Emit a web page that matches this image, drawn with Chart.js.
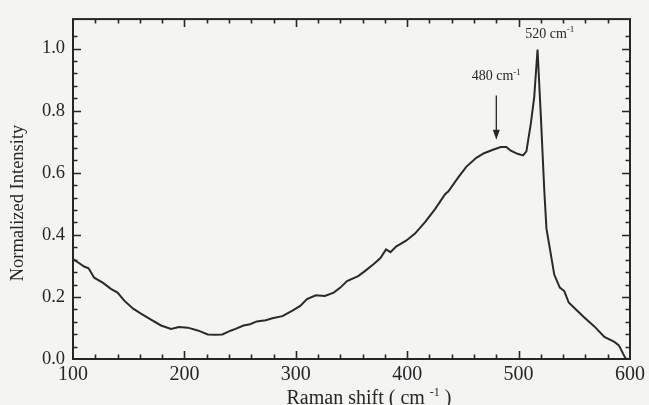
<!DOCTYPE html>
<html>
<head>
<meta charset="utf-8">
<title>Raman spectrum</title>
<script src="https://cdn.jsdelivr.net/npm/chart.js@4/dist/chart.umd.min.js"></script>
<style>
  html, body { margin: 0; padding: 0; background: #f4f4f2; }
  #chart { display: block; }
</style>
</head>
<body>
<canvas id="chart" width="649" height="405"></canvas>
<script>
// values
const ramanShift = [
  100, 105, 110, 114, 119, 127, 134, 140, 146, 154, 161, 170, 179, 188, 195,
  203, 212, 221, 228, 234, 242, 246, 253, 259, 265, 273, 279, 288, 297, 304,
  310, 318, 326, 334, 340, 346, 356, 362, 370, 376, 381, 385, 390, 399, 407,
  416, 425, 434, 437, 446, 453, 462, 469, 477, 484, 489, 493, 499, 504, 507,
  511, 514, 517, 520, 523, 525, 528, 532, 537, 541, 545, 551, 559, 568, 577,
  586, 590, 596, 598
];
const intensity = [
  0.322, 0.31, 0.298, 0.292, 0.262, 0.245, 0.226, 0.214, 0.188, 0.162, 0.146, 0.127, 0.108, 0.097, 0.103,
  0.101, 0.092, 0.079, 0.078, 0.079, 0.092, 0.097, 0.108, 0.112, 0.121, 0.125, 0.131, 0.138, 0.156, 0.171,
  0.193, 0.205, 0.203, 0.214, 0.23, 0.251, 0.267, 0.283, 0.306, 0.325, 0.353, 0.344, 0.362, 0.381, 0.404,
  0.441, 0.483, 0.531, 0.54, 0.586, 0.619, 0.648, 0.663, 0.674, 0.683, 0.683, 0.671, 0.661, 0.656, 0.669,
  0.759, 0.843, 0.997, 0.78, 0.547, 0.42, 0.357, 0.272, 0.23, 0.219, 0.182, 0.161, 0.134, 0.105, 0.071,
  0.055, 0.044, 0.002, 0.0
];

const xMin = 100, xMax = 600, xStep = 20, xMajor = 100;
const yMin = 0, yMax = 1.095, yStep = 0.04, yMajor = 0.2;

const peakLabels = [
  { x: 480, y: 0.898, text: "480 cm", arrowFrom: 0.849, arrowTo: 0.706 },
  { x: 528, y: 1.035, text: "520 cm" }
];
const xTitle = ["Raman shift ( cm ", "-1", " )"];
const yTitle = "Normalized Intensity";

const INK = "#262626";
const SERIF = "'Liberation Serif', 'Times New Roman', serif";

function isMultiple(v, step) {
  const q = v / step;
  return Math.abs(q - Math.round(q)) < 1e-6;
}

// text with a small raised part, centred on x
function drawSupText(ctx, parts, x, y, size) {
  ctx.font = size + "px " + SERIF;
  const w0 = ctx.measureText(parts[0]).width;
  const w2 = parts[2] ? ctx.measureText(parts[2]).width : 0;
  ctx.font = Math.round(size * 0.62) + "px " + SERIF;
  const w1 = ctx.measureText(parts[1]).width;
  let left = x - (w0 + w1 + w2) / 2;
  ctx.textAlign = "left";
  ctx.textBaseline = "alphabetic";
  ctx.font = size + "px " + SERIF;
  ctx.fillText(parts[0], left, y);
  ctx.font = Math.round(size * 0.62) + "px " + SERIF;
  ctx.fillText(parts[1], left + w0, y - size * 0.38);
  if (parts[2]) {
    ctx.font = size + "px " + SERIF;
    ctx.fillText(parts[2], left + w0 + w1, y);
  }
}

const bgPlugin = {
  id: "bg",
  beforeDraw(chart) {
    const ctx = chart.ctx;
    ctx.save();
    ctx.fillStyle = "#f4f4f2";
    ctx.fillRect(0, 0, chart.width, chart.height);
    ctx.restore();
  }
};

// box + inward ticks on all four sides
const framePlugin = {
  id: "frame",
  afterDraw(chart) {
    const { ctx, chartArea: a, scales } = chart;
    ctx.save();
    ctx.strokeStyle = INK;
    ctx.lineWidth = 1.6;
    ctx.beginPath();
    scales.x.ticks.forEach((t) => {
      if (t.value <= xMin || t.value >= xMax) return;
      const px = Math.round(scales.x.getPixelForValue(t.value)) + 0.5;
      const len = isMultiple(t.value, xMajor) ? 8 : 4.5;
      ctx.moveTo(px, a.bottom); ctx.lineTo(px, a.bottom - len);
      ctx.moveTo(px, a.top); ctx.lineTo(px, a.top + len);
    });
    scales.y.ticks.forEach((t) => {
      if (t.value <= yMin || t.value >= yMax - 1e-6) return;
      const py = Math.round(scales.y.getPixelForValue(t.value)) + 0.5;
      const len = isMultiple(t.value, yMajor) ? 8 : 4.5;
      ctx.moveTo(a.left, py); ctx.lineTo(a.left + len, py);
      ctx.moveTo(a.right, py); ctx.lineTo(a.right - len, py);
    });
    ctx.stroke();
    ctx.lineWidth = 2;
    ctx.strokeRect(a.left, a.top, a.right - a.left, a.bottom - a.top);

    // axis titles
    ctx.fillStyle = INK;
    drawSupText(ctx, xTitle, 369, 404, 20);
    ctx.save();
    ctx.translate(18, 203);
    ctx.rotate(-Math.PI / 2);
    ctx.font = "18.5px " + SERIF;
    ctx.textAlign = "center";
    ctx.textBaseline = "middle";
    ctx.fillText(yTitle, 0, 0);
    ctx.restore();
    ctx.restore();
  }
};

// peak labels and arrow
const peakPlugin = {
  id: "peaks",
  afterDatasetsDraw(chart) {
    const { ctx, scales } = chart;
    ctx.save();
    ctx.fillStyle = INK;
    ctx.strokeStyle = INK;
    peakLabels.forEach((p) => {
      const px = scales.x.getPixelForValue(p.x);
      drawSupText(ctx, [p.text, "-1", ""], px, scales.y.getPixelForValue(p.y), 14);
      if (p.arrowFrom !== undefined) {
        const y0 = scales.y.getPixelForValue(p.arrowFrom);
        const y1 = scales.y.getPixelForValue(p.arrowTo);
        ctx.lineWidth = 1.3;
        ctx.beginPath();
        ctx.moveTo(px, y0);
        ctx.lineTo(px, y1 - 8);
        ctx.stroke();
        ctx.beginPath();
        ctx.moveTo(px, y1);
        ctx.lineTo(px - 3.5, y1 - 10);
        ctx.lineTo(px + 3.5, y1 - 10);
        ctx.closePath();
        ctx.fill();
      }
    });
    ctx.restore();
  }
};

const points = ramanShift.map((x, i) => ({ x: x, y: intensity[i] }));

new Chart(document.getElementById("chart"), {
  type: "line",
  data: {
    datasets: [
      {
        data: points,
        borderColor: "#2a2a2a",
        borderWidth: 2,
        pointRadius: 0,
        tension: 0,
        fill: false,
      },
    ],
  },
  options: {
    responsive: false,
    animation: false,
    layout: { padding: { top: 14, right: 16, left: 0, bottom: 0 } },
    plugins: {
      legend: { display: false },
      tooltip: { enabled: false },
    },
    scales: {
      x: {
        type: "linear",
        min: xMin,
        max: xMax,
        grid: { display: false, drawTicks: false },
        border: { display: false },
        afterFit: (s) => { s.height = 46; },
        ticks: {
          stepSize: xStep,
          autoSkip: false,
          maxRotation: 0,
          padding: 4,
          color: INK,
          font: { family: SERIF, size: 20 },
          callback: (v) => (isMultiple(v, xMajor) ? String(v) : ""),
        },
      },
      y: {
        min: yMin,
        max: yMax,
        grid: { display: false, drawTicks: false },
        border: { display: false },
        afterFit: (s) => { s.width = 73; },
        ticks: {
          stepSize: yStep,
          autoSkip: false,
          padding: 8,
          color: INK,
          font: { family: SERIF, size: 18.5 },
          callback: (v) => (isMultiple(v, yMajor) ? v.toFixed(1) : ""),
        },
      },
    },
  },
  plugins: [bgPlugin, framePlugin, peakPlugin],
});
</script>
</body>
</html>
